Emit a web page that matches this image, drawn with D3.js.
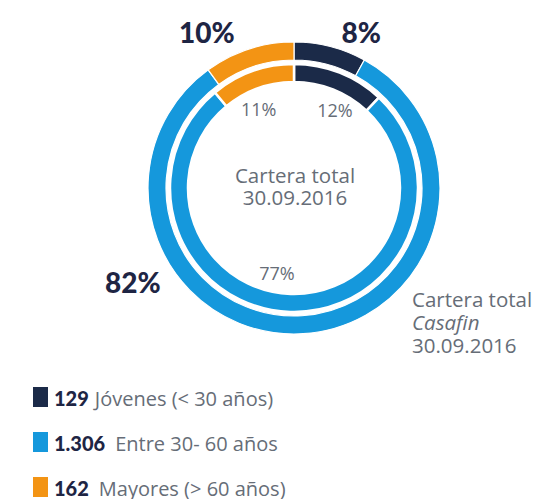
<!DOCTYPE html>
<html>
<head>
<meta charset="utf-8">
<script src="https://cdn.jsdelivr.net/npm/d3@7"></script>
<style>
  body { margin: 0; background: #fff; }
  svg { display: block; }
  .lbl-big { font-family: "Lato", sans-serif; font-weight: 900; fill: #1e2544; }
  .lbl-txt { font-family: "Open Sans", sans-serif; fill: #666d77; }
</style>
</head>
<body>
<svg id="chart" width="537" height="499"></svg>
<script>
//-----------------------------------------------------//

// Data
const groups = ["Jóvenes (< 30 años)", "Entre 30- 60 años", "Mayores (> 60 años)"];
const counts = ["129", "1.306", "162"];
const outerPct = [8, 82, 10];   // Cartera total Casafin
const innerPct = [12, 77, 11];  // Cartera total
const colors = ["#1b2a48", "#1598dc", "#f39414"];

// label placement (degrees clockwise from top, radius)
const outerLabelAt = [[23.4, 169], [-120.5, 187], [-29.3, 178]];
const innerLabelAt = [[27.7, 88], [191.3, 87], [-24.2, 86]];

//-----------------------------------------------------//

const svg = d3.select("#chart");
const cx = 294, cy = 188;

const g = svg.append("g").attr("transform", `translate(${cx},${cy})`);

const pie = d3.pie().sort(null).value(d => d);

const outerArc = d3.arc().innerRadius(128).outerRadius(146);
const innerArc = d3.arc().innerRadius(106).outerRadius(124);

g.selectAll(".outer")
  .data(pie(outerPct))
  .enter().append("path")
  .attr("class", "outer")
  .attr("d", outerArc)
  .attr("fill", (d, i) => colors[i])
  .attr("stroke", "#fff")
  .attr("stroke-width", 1.2);

g.selectAll(".inner")
  .data(pie(innerPct))
  .enter().append("path")
  .attr("class", "inner")
  .attr("d", innerArc)
  .attr("fill", (d, i) => colors[i])
  .attr("stroke", "#fff")
  .attr("stroke-width", 2.5);

function polar(a, r) {
  const t = a * Math.PI / 180;
  return [r * Math.sin(t), -r * Math.cos(t)];
}

g.selectAll(".outer-lbl")
  .data(outerPct)
  .enter().append("text")
  .attr("class", "lbl-big")
  .attr("text-anchor", "middle")
  .attr("dy", "0.36em")
  .attr("font-size", 28)
  .attr("x", (d, i) => polar(outerLabelAt[i][0], outerLabelAt[i][1])[0])
  .attr("y", (d, i) => polar(outerLabelAt[i][0], outerLabelAt[i][1])[1])
  .text(d => d + "%");

g.selectAll(".inner-lbl")
  .data(innerPct)
  .enter().append("text")
  .attr("class", "lbl-txt")
  .attr("text-anchor", "middle")
  .attr("dy", "0.36em")
  .attr("font-size", 18)
  .attr("x", (d, i) => polar(innerLabelAt[i][0], innerLabelAt[i][1])[0])
  .attr("y", (d, i) => polar(innerLabelAt[i][0], innerLabelAt[i][1])[1])
  .text(d => d + "%");

// center title
const center = g.append("text")
  .attr("class", "lbl-txt")
  .attr("text-anchor", "middle")
  .attr("font-size", 20.5);
center.append("tspan").attr("x", 1).attr("y", -5).text("Cartera total");
center.append("tspan").attr("x", 1).attr("y", 17).text("30.09.2016");

// outer ring title
const side = svg.append("text")
  .attr("class", "lbl-txt")
  .attr("font-size", 20.5);
side.append("tspan").attr("x", 412).attr("y", 307).text("Cartera total");
side.append("tspan").attr("x", 412).attr("y", 330).attr("font-style", "italic").text("Casafin");
side.append("tspan").attr("x", 412).attr("y", 353).text("30.09.2016");

// legend
const legend = svg.selectAll(".legend")
  .data(groups)
  .enter().append("g")
  .attr("class", "legend")
  .attr("transform", (d, i) => `translate(33,${387 + i * 45})`);

legend.append("rect")
  .attr("width", 15)
  .attr("height", 20)
  .attr("fill", (d, i) => colors[i]);

const lt = legend.append("text")
  .attr("x", 21)
  .attr("y", 19);

lt.append("tspan")
  .attr("class", "lbl-big")
  .attr("font-size", 20)
  .text((d, i) => counts[i]);

lt.append("tspan")
  .attr("class", "lbl-txt")
  .attr("font-size", 20)
  .attr("dx", (d, i) => i == 0 ? 6 : 10)
  .text(d => d);
</script>
</body>
</html>
